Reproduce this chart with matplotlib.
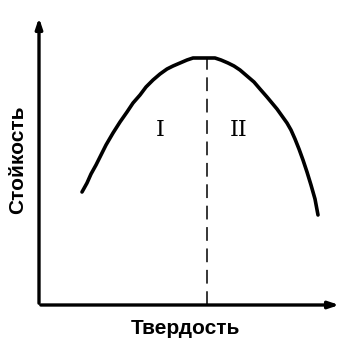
import matplotlib.pyplot as plt

# curve (arbitrary units, origin at axes corner)
hardness = [43, 48, 52, 57, 61, 67, 74, 81, 88, 94, 101, 107, 114, 121, 128, 134, 141, 148, 154, 160, 165, 171, 176, 182, 189, 195, 201, 208, 215, 221, 228, 233, 238, 243, 248, 252, 256, 260, 264, 268, 272, 276, 279]
durability = [113, 122, 131, 140, 148, 160, 172, 183, 193, 202, 210, 218, 225, 231, 236, 239, 242, 245, 247, 247, 247, 247, 247, 245, 242, 239, 235, 229, 223, 216, 208, 202, 196, 189, 182, 175, 166, 156, 145, 133, 120, 106, 90]
split_x = 168
zone_labels = ["I", "II"]
zone_x = [121, 200]
zone_y = 175

fig = plt.figure(figsize=(3.44, 3.40), dpi=100)
ax = fig.add_axes([39 / 344, 35 / 340, 303 / 344, 290 / 340])
ax.set_xlim(0, 303)
ax.set_ylim(0, 290)
ax.axis("off")

ax.plot(hardness, durability, color="black", lw=2.6, solid_capstyle="round", solid_joinstyle="round")
ax.plot([split_x, split_x], [0, max(durability)], color="black", lw=1.1, ls=(0, (9, 5)))

for lab, zx in zip(zone_labels, zone_x):
    ax.text(zx, zone_y, lab, ha="center", va="center", fontsize=16, family="DejaVu Serif", fontweight="light")

# axes with arrows
ax.annotate("", xy=(0, 290), xytext=(0, -1), arrowprops=dict(arrowstyle="-|>,head_length=0.6,head_width=0.2", color="black", lw=2.4))
ax.annotate("", xy=(303, 0), xytext=(-1, 0), arrowprops=dict(arrowstyle="-|>,head_length=0.6,head_width=0.2", color="black", lw=2.4))

fnt = ["Liberation Sans Narrow", "Liberation Sans", "DejaVu Sans"]
fig.text(185 / 344, 1 - 329 / 340, "Твердость", ha="center", va="center", fontsize=15, fontweight="bold", family=fnt)
fig.text(18 / 344, 1 - 160 / 340, "Стойкость", ha="center", va="center", rotation=90, fontsize=15, fontweight="bold", family=fnt)

fig.savefig("out.png", dpi=100)
